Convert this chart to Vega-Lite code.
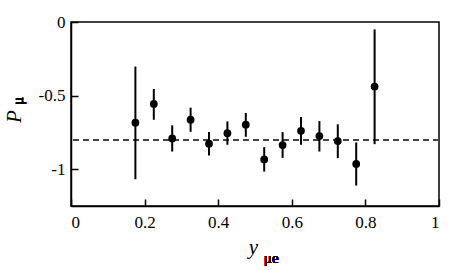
{
  "$schema": "https://vega.github.io/schema/vega-lite/v6.json",
  "width": 368,
  "height": 184,
  "autosize": "none",
  "padding": {"left": 71, "top": 22, "right": 24, "bottom": 64},
  "background": "white",
  "config": {
    "view": {"stroke": "black", "strokeWidth": 1.5},
    "font": "Liberation Serif",
    "axis": {
      "grid": false,
      "domainColor": "black",
      "domainWidth": 1.5,
      "tickColor": "black",
      "tickWidth": 1.5,
      "labelFont": "Liberation Serif",
      "labelFontSize": 17,
      "labelFontWeight": "normal",
      "labelColor": "black",
      "titleFont": "Liberation Serif",
      "titleColor": "black",
      "titleFontWeight": "normal",
      "titleFontStyle": "italic",
      "titleFontSize": 21
    }
  },
  "data": {
    "values": [
      {"x": 0.175, "y": -0.684, "lo": -1.068, "hi": -0.303},
      {"x": 0.225, "y": -0.557, "lo": -0.664, "hi": -0.455},
      {"x": 0.275, "y": -0.791, "lo": -0.880, "hi": -0.702},
      {"x": 0.325, "y": -0.664, "lo": -0.746, "hi": -0.582},
      {"x": 0.375, "y": -0.827, "lo": -0.907, "hi": -0.748},
      {"x": 0.425, "y": -0.755, "lo": -0.834, "hi": -0.675},
      {"x": 0.475, "y": -0.698, "lo": -0.780, "hi": -0.618},
      {"x": 0.525, "y": -0.934, "lo": -1.016, "hi": -0.850},
      {"x": 0.575, "y": -0.836, "lo": -0.923, "hi": -0.748},
      {"x": 0.625, "y": -0.739, "lo": -0.834, "hi": -0.646},
      {"x": 0.675, "y": -0.775, "lo": -0.880, "hi": -0.673},
      {"x": 0.725, "y": -0.809, "lo": -0.925, "hi": -0.695},
      {"x": 0.775, "y": -0.964, "lo": -1.111, "hi": -0.818},
      {"x": 0.825, "y": -0.439, "lo": -0.830, "hi": -0.050}
    ]
  },
  "layer": [
    {
      "mark": {"type": "rule", "color": "#444", "strokeWidth": 1.5, "strokeDash": [6, 4]},
      "encoding": {"y": {"datum": -0.8, "type": "quantitative"}}
    },
    {
      "mark": {"type": "rule", "color": "black", "strokeWidth": 2},
      "encoding": {
        "x": {"field": "x", "type": "quantitative"},
        "y": {"field": "lo", "type": "quantitative"},
        "y2": {"field": "hi"}
      }
    },
    {
      "mark": {"type": "point", "filled": true, "color": "black", "size": 60, "opacity": 1},
      "encoding": {
        "x": {
          "field": "x", "type": "quantitative",
          "scale": {"domain": [0, 1], "nice": false},
          "axis": {
            "values": [0, 0.2, 0.4, 0.6, 0.8, 1],
            "labelExpr": "toString(datum.value)",
            "labelOverlap": false,
            "tickSize": -7,
            "labelPadding": 15,
            "title": "y",
            "titleX": 182,
            "titleY": 47,
            "titleAlign": "center",
            "titleBaseline": "alphabetic"
          }
        },
        "y": {
          "field": "y", "type": "quantitative",
          "scale": {"domain": [-1.25, 0], "nice": false, "zero": false},
          "axis": {
            "values": [-1, -0.5, 0],
            "labelExpr": "toString(datum.value)",
            "labelOverlap": false,
            "tickSize": -7,
            "labelPadding": 13,
            "title": "P",
            "titleX": -57,
            "titleY": 94,
            "titleAngle": -90,
            "titleAlign": "center",
            "titleBaseline": "middle"
          }
        }
      }
    },
    {
      "mark": {"type": "text", "text": "μ", "font": "Liberation Serif", "fontSize": 15, "fontWeight": "normal", "angle": 270, "align": "center", "baseline": "middle", "clip": false, "color": "black"},
      "encoding": {
        "x": {"datum": -0.144, "type": "quantitative"},
        "y": {"datum": -0.536, "type": "quantitative"}
      }
    },
    {
      "mark": {"type": "text", "text": "μe", "font": "Liberation Serif", "fontSize": 15, "fontWeight": "normal", "align": "center", "baseline": "middle", "clip": false, "color": "black"},
      "encoding": {
        "x": {"datum": 0.544, "type": "quantitative"},
        "y": {"datum": -1.6, "type": "quantitative"}
      }
    }
  ]
}
